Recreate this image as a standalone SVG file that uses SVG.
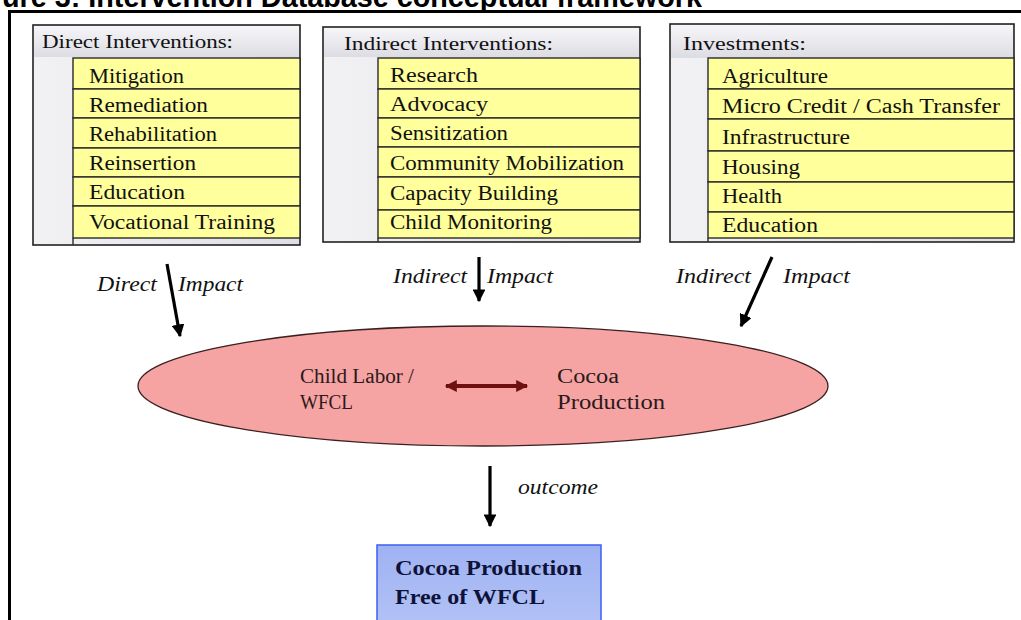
<svg xmlns="http://www.w3.org/2000/svg" width="1021" height="620" viewBox="0 0 1021 620">
<defs>
<linearGradient id="hdr" x1="0" y1="0" x2="0" y2="1">
<stop offset="0" stop-color="#f6f6f9"/><stop offset="1" stop-color="#dcdce3"/>
</linearGradient>
<linearGradient id="side" x1="0" y1="0" x2="1" y2="0">
<stop offset="0" stop-color="#f2f2f5"/><stop offset="1" stop-color="#dedee4"/>
</linearGradient>
<linearGradient id="blue" x1="0" y1="0" x2="0" y2="1">
<stop offset="0" stop-color="#9fb2f2"/><stop offset="1" stop-color="#b2c2f6"/>
</linearGradient>
<marker id="ah" viewBox="0 0 10 10" refX="9" refY="5" markerWidth="4" markerHeight="4" orient="auto" markerUnits="strokeWidth">
<path d="M0,0 L10,5 L0,10 z" fill="#000"/>
</marker>
<marker id="rh" viewBox="0 0 10 10" refX="9" refY="5" markerWidth="3.5" markerHeight="3" orient="auto-start-reverse" markerUnits="strokeWidth">
<path d="M0,0 L10,5 L0,10 z" fill="#6e1010"/>
</marker>
</defs>
<style>
.title{font-family:"Liberation Sans",Arial,sans-serif;font-weight:bold;font-size:29px;fill:#000}
.outer{fill:url(#side);stroke:#222;stroke-width:1.6}
.head{fill:url(#hdr)}
.row{fill:#ffff9c;stroke:#2a2a2a;stroke-width:1.4}
.h{font-family:"Liberation Serif","Times New Roman",serif;font-size:19px;fill:#111}
.it{font-family:"Liberation Serif","Times New Roman",serif;font-size:20px;fill:#111}
.lab{font-family:"Liberation Serif","Times New Roman",serif;font-style:italic;font-size:20px;fill:#111}
.ell{font-family:"Liberation Serif","Times New Roman",serif;font-size:20px;fill:#2a1a1a}
.res{font-family:"Liberation Serif","Times New Roman",serif;font-weight:bold;font-size:20px;fill:#0e1238}
.arr{stroke:#000;stroke-width:3.2;fill:none;marker-end:url(#ah)}
</style>
<rect width="1021" height="620" fill="#fff"/>
<text class="title" x="2" y="7" textLength="700" lengthAdjust="spacingAndGlyphs">ure 3: Intervention Database conceptual framework</text>
<path d="M9.5,620 V11.5 H1021" fill="none" stroke="#000" stroke-width="3"/>

<g id="direct">
<rect class="outer" x="33" y="25" width="267" height="220"/>
<rect class="head" x="34" y="26" width="265" height="31"/>
<text class="h" x="42" y="48" textLength="191" lengthAdjust="spacingAndGlyphs">Direct Interventions:</text>
<rect class="row" x="73" y="58" width="227" height="31"/>
<rect class="row" x="73" y="89" width="227" height="29"/>
<rect class="row" x="73" y="118" width="227" height="30"/>
<rect class="row" x="73" y="148" width="227" height="29"/>
<rect class="row" x="73" y="177" width="227" height="29"/>
<rect class="row" x="73" y="206" width="227" height="32"/>
<line x1="73" y1="238" x2="73" y2="245" stroke="#2a2a2a" stroke-width="1.4"/>
<text class="it" x="89" y="83" textLength="95" lengthAdjust="spacingAndGlyphs">Mitigation</text>
<text class="it" x="89" y="112" textLength="119" lengthAdjust="spacingAndGlyphs">Remediation</text>
<text class="it" x="89" y="141" textLength="128" lengthAdjust="spacingAndGlyphs">Rehabilitation</text>
<text class="it" x="89" y="170" textLength="107" lengthAdjust="spacingAndGlyphs">Reinsertion</text>
<text class="it" x="89" y="199" textLength="96" lengthAdjust="spacingAndGlyphs">Education</text>
<text class="it" x="89" y="229" textLength="186" lengthAdjust="spacingAndGlyphs">Vocational Training</text>
</g>

<g id="indirect">
<rect class="outer" x="323" y="27" width="317" height="215"/>
<rect class="head" x="324" y="28" width="315" height="29"/>
<text class="h" x="344" y="50" textLength="209" lengthAdjust="spacingAndGlyphs">Indirect Interventions:</text>
<rect class="row" x="378" y="58" width="262" height="31"/>
<rect class="row" x="378" y="89" width="262" height="29"/>
<rect class="row" x="378" y="118" width="262" height="29"/>
<rect class="row" x="378" y="147" width="262" height="30"/>
<rect class="row" x="378" y="177" width="262" height="33"/>
<rect class="row" x="378" y="210" width="262" height="28"/>
<line x1="378" y1="238" x2="378" y2="242" stroke="#2a2a2a" stroke-width="1.4"/>
<text class="it" x="390" y="82" textLength="88" lengthAdjust="spacingAndGlyphs">Research</text>
<text class="it" x="390" y="111" textLength="98" lengthAdjust="spacingAndGlyphs">Advocacy</text>
<text class="it" x="390" y="140" textLength="118" lengthAdjust="spacingAndGlyphs">Sensitization</text>
<text class="it" x="390" y="170" textLength="234" lengthAdjust="spacingAndGlyphs">Community Mobilization</text>
<text class="it" x="390" y="200" textLength="168" lengthAdjust="spacingAndGlyphs">Capacity Building</text>
<text class="it" x="390" y="229" textLength="162" lengthAdjust="spacingAndGlyphs">Child Monitoring</text>
</g>

<g id="investments">
<rect class="outer" x="670" y="24" width="344" height="218"/>
<rect class="head" x="671" y="25" width="342" height="33"/>
<text class="h" x="683" y="50" textLength="123" lengthAdjust="spacingAndGlyphs">Investments:</text>
<rect class="row" x="708" y="58" width="306" height="31"/>
<rect class="row" x="708" y="89" width="306" height="30"/>
<rect class="row" x="708" y="119" width="306" height="32"/>
<rect class="row" x="708" y="151" width="306" height="31"/>
<rect class="row" x="708" y="182" width="306" height="30"/>
<rect class="row" x="708" y="212" width="306" height="26"/>
<line x1="708" y1="238" x2="708" y2="242" stroke="#2a2a2a" stroke-width="1.4"/>
<text class="it" x="722" y="83" textLength="106" lengthAdjust="spacingAndGlyphs">Agriculture</text>
<text class="it" x="722" y="113" textLength="278" lengthAdjust="spacingAndGlyphs">Micro Credit / Cash Transfer</text>
<text class="it" x="722" y="144" textLength="128" lengthAdjust="spacingAndGlyphs">Infrastructure</text>
<text class="it" x="722" y="174" textLength="78" lengthAdjust="spacingAndGlyphs">Housing</text>
<text class="it" x="722" y="203" textLength="60" lengthAdjust="spacingAndGlyphs">Health</text>
<text class="it" x="722" y="232" textLength="96" lengthAdjust="spacingAndGlyphs">Education</text>
</g>

<g id="core">
<ellipse cx="483" cy="386" rx="345" ry="60" fill="#f5a3a3" stroke="#3a2020" stroke-width="1.3"/>
<text class="ell" x="300" y="383" textLength="114" lengthAdjust="spacingAndGlyphs">Child Labor /</text>
<text class="ell" x="300" y="409" textLength="53" lengthAdjust="spacingAndGlyphs">WFCL</text>
<text class="ell" x="557" y="383" textLength="62" lengthAdjust="spacingAndGlyphs">Cocoa</text>
<text class="ell" x="557" y="409" textLength="108" lengthAdjust="spacingAndGlyphs">Production</text>
<line x1="446" y1="386" x2="527" y2="386" stroke="#6e1010" stroke-width="4" marker-start="url(#rh)" marker-end="url(#rh)"/>
</g>

<g id="result">
<rect x="377" y="545" width="224" height="80" fill="url(#blue)" stroke="#3f5ff0" stroke-width="1.5"/>
<text class="res" x="395" y="575" textLength="187" lengthAdjust="spacingAndGlyphs">Cocoa Production</text>
<text class="res" x="395" y="604" textLength="150" lengthAdjust="spacingAndGlyphs">Free of WFCL</text>
</g>

<g id="connectors">
<line class="arr" x1="167" y1="264" x2="180" y2="336"/>
<line class="arr" x1="479" y1="257" x2="479" y2="301"/>
<line class="arr" x1="772" y1="257" x2="741" y2="326"/>
<line class="arr" x1="490" y1="466" x2="490" y2="526"/>
<text class="lab" x="97" y="291" textLength="60" lengthAdjust="spacingAndGlyphs">Direct</text>
<text class="lab" x="178" y="291" textLength="65" lengthAdjust="spacingAndGlyphs">Impact</text>
<text class="lab" x="393" y="283" textLength="74" lengthAdjust="spacingAndGlyphs">Indirect</text>
<text class="lab" x="487" y="283" textLength="66" lengthAdjust="spacingAndGlyphs">Impact</text>
<text class="lab" x="676" y="283" textLength="75" lengthAdjust="spacingAndGlyphs">Indirect</text>
<text class="lab" x="783" y="283" textLength="67" lengthAdjust="spacingAndGlyphs">Impact</text>
<text class="lab" x="518" y="494" textLength="80" lengthAdjust="spacingAndGlyphs">outcome</text>
</g>
</svg>
